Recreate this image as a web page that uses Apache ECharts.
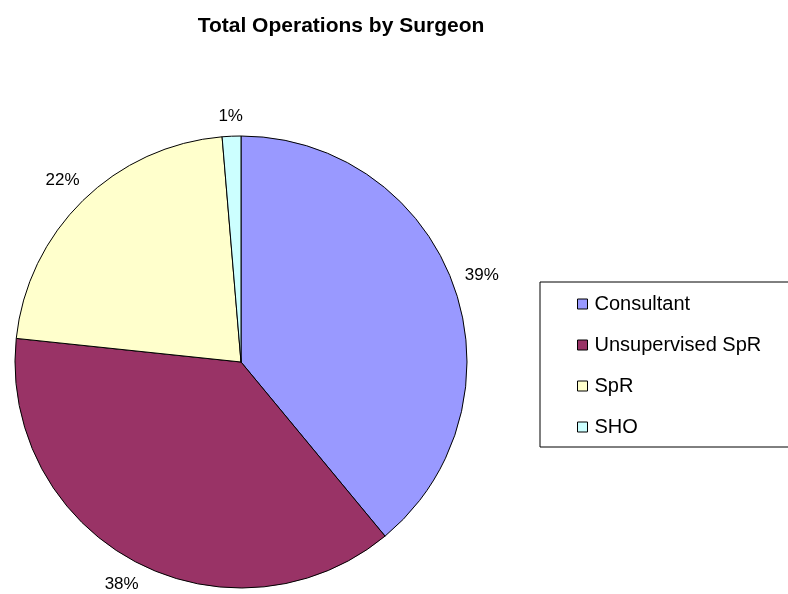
<!DOCTYPE html>
<html>
<head>
<meta charset="utf-8">
<script src="https://cdn.jsdelivr.net/npm/echarts@6/dist/echarts.min.js"></script>
<style>
  html, body { margin: 0; padding: 0; background: #fff; }
  #main { width: 788px; height: 594px; }
</style>
</head>
<body>
<div id="main"></div>
<script>
// operations per surgeon grade
var surgeons = ['Consultant', 'Unsupervised SpR', 'SpR', 'SHO'];
var operations = [117, 113, 66, 4];
var sliceColors = ['#9999FF', '#993366', '#FFFFCC', '#CCFFFF'];

var chart = echarts.init(document.getElementById('main'));

var pieData = [];
for (var i = 0; i < surgeons.length; i++) {
    pieData.push({
        name: surgeons[i],
        value: operations[i],
        itemStyle: { color: sliceColors[i] }
    });
}

var option = {
    animation: false,
    backgroundColor: '#fff',
    title: {
        text: 'Total Operations by Surgeon',
        left: 336,
        textAlign: 'center',
        top: 11,
        textStyle: {
            fontFamily: 'Liberation Sans, Arial, sans-serif',
            fontSize: 21,
            fontWeight: 'bold',
            color: '#000'
        }
    },
    legend: {
        orient: 'vertical',
        left: 540,
        top: 282,
        width: 260,
        padding: [12, 40, 10, 37],
        itemGap: 21,
        itemWidth: 10,
        itemHeight: 10,
        borderColor: '#000',
        borderWidth: 1,
        icon: 'rect',
        selectedMode: false,
        itemStyle: { borderColor: '#000', borderWidth: 1 },
        textStyle: {
            fontFamily: 'Liberation Sans, Arial, sans-serif',
            fontSize: 20,
            color: '#000',
            padding: [0, 0, 0, 2]
        },
        data: surgeons
    },
    series: [
        {
            name: 'Operations',
            type: 'pie',
            center: [241, 362],
            radius: 226,
            startAngle: 90,
            clockwise: true,
            avoidLabelOverlap: false,
            itemStyle: { borderColor: '#000', borderWidth: 1 },
            emphasis: { disabled: true },
            label: {
                show: true,
                position: 'outside',
                formatter: '{d}%',
                fontFamily: 'Liberation Sans, Arial, sans-serif',
                fontSize: 17,
                color: '#000'
            },
            percentPrecision: 0,
            // invisible guide line, only used to find the radial direction
            labelLine: { show: true, length: 10, length2: 0, lineStyle: { opacity: 0 } },
            // excel style: label box kept a fixed gap off the rim along the mid angle
            labelLayout: function (p) {
                var pts = p.labelLinePoints;
                if (!pts) return {};
                var dx = pts[1][0] - pts[0][0];
                var dy = pts[1][1] - pts[0][1];
                var len = Math.sqrt(dx * dx + dy * dy) || 1;
                var ux = dx / len, uy = dy / len;
                var ext = Math.abs(ux) * p.labelRect.width / 2 + Math.abs(uy) * p.labelRect.height / 2;
                var d = 11 + ext;
                return {
                    x: pts[0][0] + ux * d,
                    y: pts[0][1] + uy * d,
                    align: 'center',
                    verticalAlign: 'middle'
                };
            },
            data: pieData
        }
    ]
};

chart.setOption(option);
</script>
</body>
</html>
